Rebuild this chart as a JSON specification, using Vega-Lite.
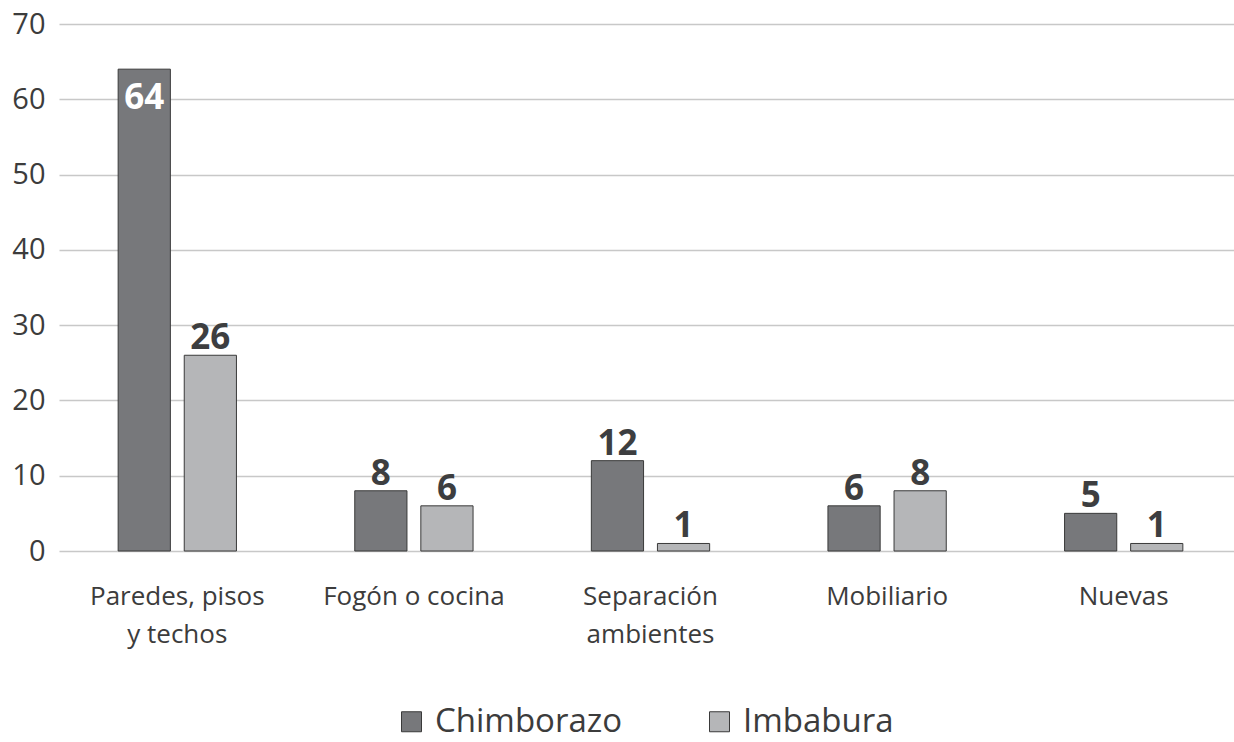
{
  "$schema": "https://vega.github.io/schema/vega-lite/v6.json",
  "autosize": "none",
  "padding": {"left": 59, "top": 24, "right": 0, "bottom": 191},
  "width": 1175,
  "height": 527,
  "config": {
    "font": "Open Sans",
    "view": {"stroke": null},
    "axis": {"labelFont": "Open Sans", "labelColor": "#3c3c3c"}
  },
  "data": {
    "values": [
      {"categoria": "Paredes, pisos y techos", "provincia": "Chimborazo", "valor": 64},
      {"categoria": "Paredes, pisos y techos", "provincia": "Imbabura", "valor": 26},
      {"categoria": "Fogón o cocina", "provincia": "Chimborazo", "valor": 8},
      {"categoria": "Fogón o cocina", "provincia": "Imbabura", "valor": 6},
      {"categoria": "Separación ambientes", "provincia": "Chimborazo", "valor": 12},
      {"categoria": "Separación ambientes", "provincia": "Imbabura", "valor": 1},
      {"categoria": "Mobiliario", "provincia": "Chimborazo", "valor": 6},
      {"categoria": "Mobiliario", "provincia": "Imbabura", "valor": 8},
      {"categoria": "Nuevas", "provincia": "Chimborazo", "valor": 5},
      {"categoria": "Nuevas", "provincia": "Imbabura", "valor": 1}
    ]
  },
  "encoding": {
    "x": {
      "field": "categoria", "type": "nominal", "sort": null,
      "scale": {"paddingInner": 0.5, "paddingOuter": 0.25, "range": [0, 1183]},
      "axis": {
        "title": null, "labelAngle": 0, "domain": false, "ticks": false,
        "labelFontSize": 26, "labelPadding": 32, "labelLineHeight": 38, "labelLimit": 0,
        "labelExpr": "datum.label == 'Paredes, pisos y techos' ? ['Paredes, pisos', 'y techos'] : datum.label == 'Separación ambientes' ? ['Separación', 'ambientes'] : datum.label"
      }
    },
    "xOffset": {"field": "provincia", "type": "nominal", "scale": {"paddingInner": 0.21}},
    "y": {
      "field": "valor", "type": "quantitative",
      "scale": {"domain": [0, 70]},
      "axis": {
        "title": null, "values": [0, 10, 20, 30, 40, 50, 60, 70],
        "domain": false, "ticks": false, "labelFontSize": 29, "labelPadding": 14,
        "gridColor": "#c8c8c8", "gridWidth": 1.5
      }
    }
  },
  "layer": [
    {
      "mark": {"type": "bar", "stroke": "#3a3a3a", "strokeWidth": 1},
      "encoding": {
        "color": {
          "field": "provincia", "type": "nominal",
          "scale": {"domain": ["Chimborazo", "Imbabura"], "range": ["#77787b", "#b5b6b8"]},
          "legend": {
            "title": null, "orient": "none", "direction": "horizontal",
            "legendX": 336, "legendY": 681,
            "symbolType": "square", "symbolSize": 400,
            "symbolStrokeColor": "#3a3a3a", "symbolStrokeWidth": 1,
            "labelFontSize": 33, "labelColor": "#3c3c3c", "labelOffset": 7,
            "labelLimit": 0, "columnPadding": 80, "labelFont": "Open Sans"
          }
        }
      }
    },
    {
      "transform": [{"filter": "datum.valor < 60"}],
      "mark": {"type": "text", "baseline": "bottom", "dy": 1, "fontSize": 35, "fontWeight": "bold", "color": "#3d3e40"},
      "encoding": {"text": {"field": "valor", "type": "quantitative"}}
    },
    {
      "transform": [{"filter": "datum.valor >= 60"}],
      "mark": {"type": "text", "baseline": "top", "dy": 12, "fontSize": 35, "fontWeight": "bold", "color": "#ffffff"},
      "encoding": {"text": {"field": "valor", "type": "quantitative"}}
    }
  ]
}
